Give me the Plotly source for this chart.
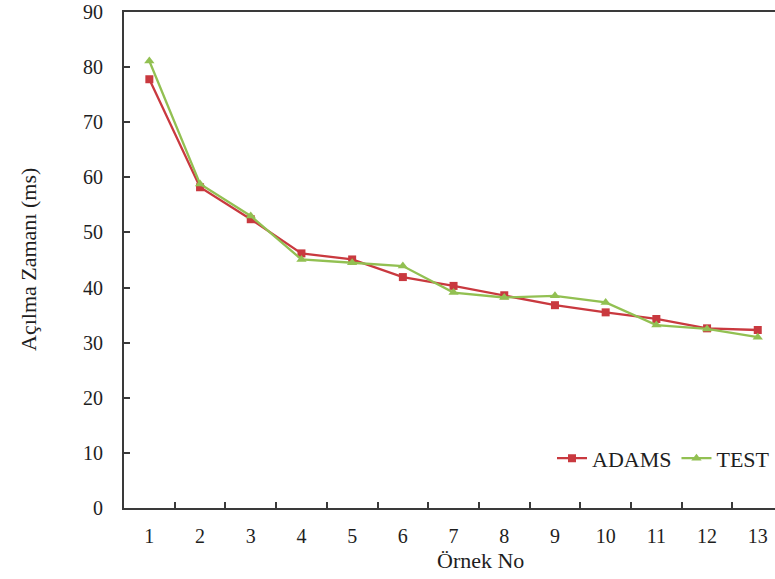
import plotly.graph_objects as go

categories = ["1", "2", "3", "4", "5", "6", "7", "8", "9", "10", "11", "12", "13"]
adams = [77.8, 58.2, 52.4, 46.2, 45.1, 41.9, 40.3, 38.6, 36.8, 35.5, 34.3, 32.6, 32.3]
test = [81.1, 58.8, 53.0, 45.1, 44.5, 43.9, 39.1, 38.2, 38.5, 37.3, 33.2, 32.5, 31.0]
y_ticks = [0, 10, 20, 30, 40, 50, 60, 70, 80, 90]

FONT = "Liberation Serif, Times New Roman, serif"
TXT = "#1e1e1e"
AX = "#3a3a3a"

fig = go.Figure()
fig.add_trace(go.Scatter(
    x=categories, y=adams, name="ADAMS", mode="lines+markers",
    line=dict(color="#c9393f", width=2.3),
    marker=dict(symbol="square", size=8, color="#c9393f"),
))
fig.add_trace(go.Scatter(
    x=categories, y=test, name="TEST", mode="lines+markers",
    line=dict(color="#92c052", width=2.3),
    marker=dict(symbol="triangle-up", size=9, color="#92c052"),
))

fig.update_layout(
    width=775, height=579,
    margin=dict(l=124, r=0, t=12, b=71),
    paper_bgcolor="white", plot_bgcolor="white",
    font=dict(family=FONT, size=20, color=TXT),
    showlegend=True,
    legend=dict(
        orientation="h", x=1.0, xanchor="right", y=0.10, yanchor="middle",
        font=dict(family=FONT, size=22, color=TXT),
        bgcolor="rgba(0,0,0,0)", itemwidth=30, tracegroupgap=0,
    ),
    xaxis=dict(
        type="category", range=[-0.5, 12.34],
        tickson="boundaries", ticks="inside", ticklen=6, tickwidth=1.5, tickcolor=AX,
        showline=True, linecolor=AX, linewidth=2, mirror=True,
        showgrid=False, zeroline=False,
        ticklabelstandoff=9,
        tickfont=dict(family=FONT, size=20, color=TXT),
    ),
    yaxis=dict(
        range=[0, 90], tickvals=y_ticks,
        ticks="inside", ticklen=6, tickwidth=1.5, tickcolor=AX,
        showline=True, linecolor=AX, linewidth=2, mirror=False,
        showgrid=False, zeroline=False,
        ticklabelstandoff=15,
        tickfont=dict(family=FONT, size=20, color=TXT),
    ),
    annotations=[
        dict(text="Örnek No", xref="paper", yref="paper", x=0.547, y=-0.105,
             xanchor="center", yanchor="middle", showarrow=False,
             font=dict(family=FONT, size=22, color=TXT)),
        dict(text="Açılma Zamanı (ms)", xref="paper", yref="paper", x=-0.1475, y=0.502,
             xanchor="center", yanchor="middle", textangle=-90, showarrow=False,
             font=dict(family=FONT, size=22, color=TXT)),
    ],
)

fig.write_html("out.html")
